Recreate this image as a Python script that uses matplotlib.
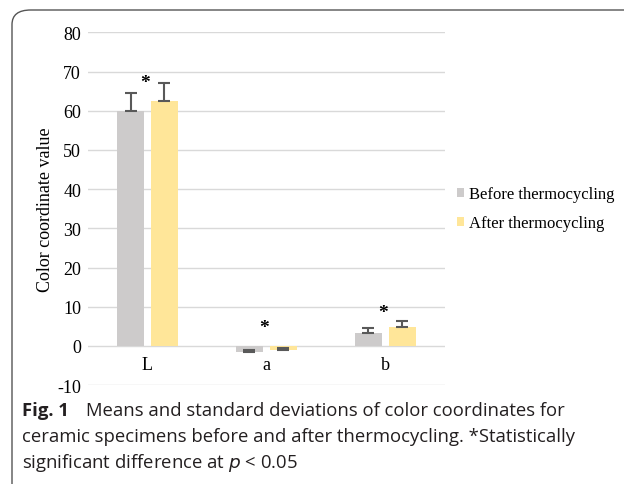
import numpy as np
import matplotlib.pyplot as plt
from matplotlib.patches import FancyBboxPatch

plt.rcParams['axes.unicode_minus'] = False

# Data
categories = ['L', 'a', 'b']
before = [60.0, -1.5, 3.3]
after = [62.5, -1.0, 4.8]
before_sd = [4.6, 0.5, 1.2]
after_sd = [4.5, 0.5, 1.5]
star_y = [67.3, 4.8, 8.4]
series_names = ['Before thermocycling', 'After thermocycling']
colors = ['#cdcbcb', '#ffe699']

serif = 'Liberation Serif'
fig = plt.figure(figsize=(6.24, 4.85), dpi=100)
ax = fig.add_axes([0.141, 0.204, 0.572, 0.727])

x = np.arange(len(categories))
w = 0.225
gap = 0.03
ax.bar(x - w / 2 - gap, before, w, color=colors[0], label=series_names[0], zorder=2)
ax.bar(x + w / 2 + gap, after, w, color=colors[1], label=series_names[1], zorder=2)
ax.errorbar(x - w / 2 - gap, before, yerr=[np.zeros(3), before_sd], fmt='none',
            ecolor='#595959', elinewidth=1.5, capsize=4, capthick=1.5, zorder=3)
ax.errorbar(x + w / 2 + gap, after, yerr=[np.zeros(3), after_sd], fmt='none',
            ecolor='#595959', elinewidth=1.5, capsize=4, capthick=1.5, zorder=3)
for xi, sy in zip(x, star_y):
    ax.text(xi - 0.02, sy, '*', ha='center', va='center',
            fontsize=14, fontweight='bold', family=serif)

# category labels sit between 0 and -10 like in Excel
for xi, c in zip(x, categories):
    ax.text(xi, -4.8, c, ha='center', va='center', fontsize=13, family=serif)

ax.set_xlim(-0.5, 2.5)
ax.set_ylim(-10, 80)
ax.set_yticks(np.arange(-10, 81, 10))
ax.set_xticks([])
ax.grid(axis='y', color='#d9d9d9', linewidth=1, zorder=0)
for s in ax.spines.values():
    s.set_visible(False)
ax.tick_params(length=0, labelsize=13, pad=5)
for lab in ax.get_yticklabels():
    lab.set_family(serif)
ax.set_ylabel('Color coordinate value', family=serif, fontsize=13, labelpad=2)

leg = ax.legend(loc='center left', bbox_to_anchor=(1.0, 0.5), frameon=False,
                prop={'family': serif, 'size': 12}, handlelength=0.45,
                handleheight=0.45, handletextpad=0.3, labelspacing=0.8,
                borderaxespad=0.3)

# caption
cap_font = 'Open Sans'
fig.text(22 / 624, 1 - 411 / 485, 'Fig. 1', fontsize=13.3, va='center',
         family=cap_font, fontweight='bold', color='#231f20')
fig.text(86 / 624, 1 - 411 / 485,
         'Means and standard deviations of color coordinates for',
         fontsize=13.3, va='center', family=cap_font, color='#231f20')
fig.text(22 / 624, 1 - 437 / 485,
         'ceramic specimens before and after thermocycling. *Statistically',
         fontsize=13.3, va='center', family=cap_font, color='#231f20')
fig.text(22 / 624, 1 - 463 / 485,
         'significant difference at $p$ < 0.05',
         fontsize=13.3, va='center', family=cap_font, color='#231f20')

box = FancyBboxPatch((12 / 624, -0.1), 1.2, 1 - 11 / 485 + 0.1,
                     boxstyle='round,pad=0,rounding_size=0.03',
                     transform=fig.transFigure, fill=False, edgecolor='#555555',
                     linewidth=1.0, clip_on=False)
fig.patches.append(box)

fig.savefig('out.png', dpi=100)
